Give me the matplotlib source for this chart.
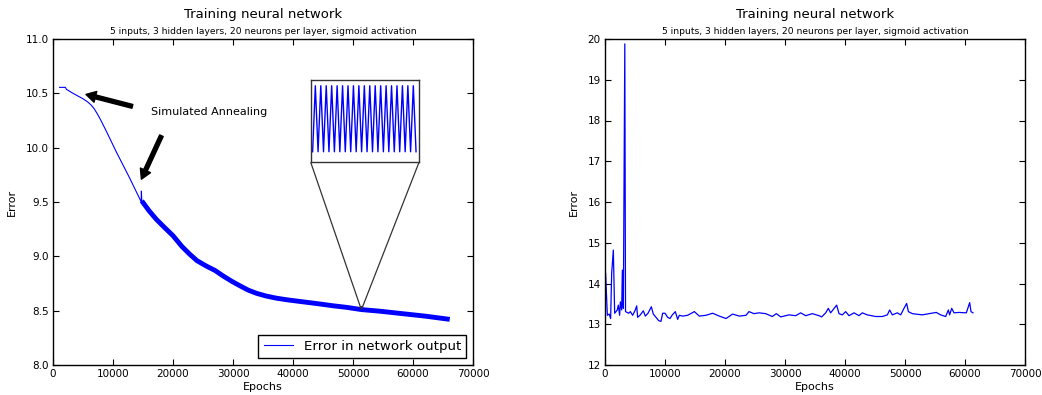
"""
Two training-error panels: simulated annealing run (left, with zoom inset)
and unstable run (right).
"""

import matplotlib
matplotlib.use("Agg")
import matplotlib.pyplot as plt
from mpl_toolkits.axes_grid1.inset_locator import mark_inset

TITLE    = "Training neural network"
SUBTITLE = "5 inputs, 3 hidden layers, 20 neurons per layer, sigmoid activation"

# ── left panel data ──────────────────────────────────────────────────────────
smooth_epochs = [1100, 2070, 2230, 3340, 5000, 5800, 6400, 6900, 7400, 7900,
                 8900, 10560, 12780, 14450, 14700, 14730, 14800]
smooth_err    = [10.555, 10.555, 10.537, 10.50, 10.45, 10.42, 10.39, 10.355,
                 10.31, 10.26, 10.15, 9.96, 9.72, 9.53, 9.50, 9.60, 9.51]

band_epochs = [14800, 16000, 17230, 18500, 20000, 21500, 22780, 24000, 25570,
               27000, 28340, 29800, 31120, 32500, 33900, 35500, 37230, 39000,
               41120, 44000, 46670, 49000, 51400, 54500, 57800, 62000, 66120]
band_err    = [9.51, 9.42, 9.34, 9.27, 9.19, 9.09, 9.02, 8.96, 8.91,
               8.87, 8.82, 8.77, 8.73, 8.69, 8.66, 8.635, 8.615, 8.60,
               8.585, 8.565, 8.545, 8.53, 8.51, 8.495, 8.475, 8.45, 8.42]

# zoomed detail around epoch 51400 (oscillation between two error levels)
inset_epochs = list(range(51381, 51420))
inset_err = [8.515, 8.540, 8.515, 8.540, 8.515, 8.540, 8.515, 8.540, 8.515, 8.540,
             8.515, 8.540, 8.515, 8.540, 8.515, 8.540, 8.515, 8.540, 8.515, 8.540,
             8.515, 8.540, 8.515, 8.540, 8.515, 8.540, 8.515, 8.540, 8.515, 8.540,
             8.515, 8.540, 8.515, 8.540, 8.515, 8.540, 8.515, 8.540, 8.515]

# ── right panel data ─────────────────────────────────────────────────────────
right_epochs = [0, 100, 390, 700, 940, 1110, 1390, 1610, 2050, 2220, 2440, 2560,
                2780, 2890, 3060, 3300, 3420, 3940, 4220, 4610, 5050, 5280, 5440,
                5830, 6390, 6720, 7170, 7720, 8050, 8500, 8940, 9330, 9610, 10000,
                10440, 10830, 11170, 11720, 12110, 12390, 12940, 13780, 14890,
                15720, 16830, 17940, 19050, 20170, 21280, 22390, 23500, 24000,
                24830, 25670, 26780, 27890, 28560, 29280, 30670, 31780, 32610,
                33440, 34560, 35670, 36110, 36780, 37220, 37610, 38610, 39000,
                39560, 40110, 40670, 41500, 42330, 42890, 43720, 45110, 46220,
                47060, 47440, 47890, 48720, 49280, 49830, 50280, 50560, 51220,
                52890, 54000, 55220, 55940, 56780, 57220, 57440, 57780, 58170,
                59000, 60220, 60780, 61000, 61330]
right_err = [12.45, 14.25, 13.22, 13.25, 13.14, 14.25, 14.82, 13.27, 13.35, 13.47,
             13.22, 13.55, 13.35, 14.33, 13.39, 19.88, 13.31, 13.27, 13.31, 13.22,
             13.35, 13.45, 13.17, 13.22, 13.33, 13.20, 13.27, 13.43, 13.25, 13.17,
             13.09, 13.07, 13.27, 13.27, 13.17, 13.14, 13.22, 13.31, 13.12, 13.22,
             13.20, 13.22, 13.31, 13.20, 13.22, 13.27, 13.20, 13.14, 13.25, 13.20,
             13.22, 13.31, 13.26, 13.28, 13.26, 13.19, 13.26, 13.18, 13.23, 13.21,
             13.28, 13.21, 13.26, 13.21, 13.18, 13.28, 13.39, 13.28, 13.47, 13.26,
             13.23, 13.31, 13.21, 13.28, 13.21, 13.28, 13.23, 13.19, 13.19, 13.23,
             13.35, 13.23, 13.28, 13.23, 13.39, 13.51, 13.31, 13.26, 13.23, 13.26,
             13.29, 13.23, 13.19, 13.35, 13.23, 13.39, 13.28, 13.29, 13.28, 13.53,
             13.31, 13.28]

BLUE = "#0000ff"
TICK_FS = 7.5
LABEL_FS = 8


def style_axes(ax):
    for s in ax.spines.values():
        s.set_linewidth(1.0)
        s.set_color("black")
    ax.tick_params(direction="in", top=True, right=True, length=4,
                   width=0.8, labelsize=TICK_FS, colors="black", pad=3)
    ax.text(0.5, 1.074, TITLE, transform=ax.transAxes, ha="center",
            va="center", fontsize=9.5)
    ax.text(0.5, 1.022, SUBTITLE, transform=ax.transAxes, ha="center",
            va="center", fontsize=6.6)
    ax.set_xlabel("Epochs", fontsize=LABEL_FS)
    ax.set_ylabel("Error", fontsize=LABEL_FS)
    ax.xaxis.set_label_coords(0.5, -0.052)


fig = plt.figure(figsize=(10.42, 3.95), dpi=100)
ax1 = fig.add_axes([53 / 1042, 30 / 395, 420 / 1042, 326 / 395])
ax2 = fig.add_axes([605 / 1042, 30 / 395, 420 / 1042, 326 / 395])

# ── left panel ──
ax1.plot(smooth_epochs, smooth_err, color=BLUE, lw=0.8,
         label="Error in network output")
ax1.plot(band_epochs, band_err, color=BLUE, lw=3.5, solid_capstyle="butt",
         solid_joinstyle="round")
ax1.set_xlim(0, 70000)
ax1.set_ylim(8.0, 11.0)
ax1.set_xticks(range(0, 70001, 10000))
ax1.set_yticks([8.0, 8.5, 9.0, 9.5, 10.0, 10.5, 11.0])
ax1.set_yticklabels(["8.0", "8.5", "9.0", "9.5", "10.0", "10.5", "11.0"])
style_axes(ax1)
ax1.yaxis.set_label_coords(-0.085, 0.5)

ax1.text(16400, 10.33, "Simulated Annealing", fontsize=8, va="center")
arrow = dict(facecolor="black", edgecolor="black", width=2.8,
             headwidth=8, headlength=7, shrink=0)
ax1.annotate("", xy=(5500, 10.49), xytext=(13230, 10.38), arrowprops=arrow)
ax1.annotate("", xy=(14730, 9.71), xytext=(18070, 10.11), arrowprops=arrow)

leg = ax1.legend(loc="lower right", fontsize=9.6, fancybox=False,
                 framealpha=1, edgecolor="black", borderaxespad=0.5,
                 handlelength=2.2)
leg.get_frame().set_linewidth(1.0)

axins = ax1.inset_axes([0.6136, 0.6218, 0.2579, 0.2534])
axins.plot(inset_epochs, inset_err, color=BLUE, lw=1.0)
axins.set_xlim(51380.3, 51420.1)
axins.set_ylim(8.511, 8.5423)
axins.set_xticks([])
axins.set_yticks([])
for s in axins.spines.values():
    s.set_linewidth(1.0)
    s.set_color("0.2")
mark_inset(ax1, axins, loc1=3, loc2=4, fc="none", ec="0.2", lw=0.9)

# ── right panel ──
ax2.plot(right_epochs, right_err, color=BLUE, lw=0.9)
ax2.set_xlim(0, 70000)
ax2.set_ylim(12, 20)
ax2.set_xticks(range(0, 70001, 10000))
ax2.set_yticks(range(12, 21))
style_axes(ax2)
ax2.yaxis.set_label_coords(-0.062, 0.5)

fig.savefig("out.png", dpi=100)
